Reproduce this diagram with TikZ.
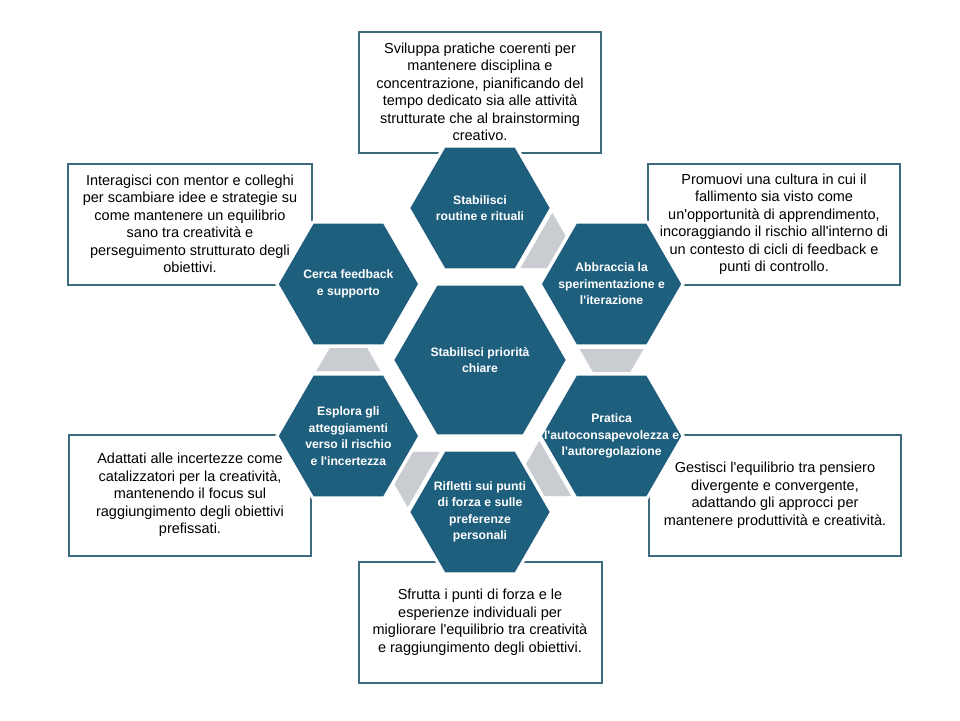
\documentclass[tikz,border=0pt]{standalone}
\usepackage{fontspec}
\setmainfont{Liberation Sans}[Ligatures=TeXOff]
\usepackage{tikz}
\usetikzlibrary{calc,shapes.geometric}
\definecolor{hexblue}{RGB}{31,95,126}
\definecolor{boxline}{RGB}{60,106,126}
\definecolor{conngray}{RGB}{201,205,210}
\tikzset{
	hexo/.style={regular polygon, regular polygon sides=6, minimum size=143pt, inner sep=0pt, fill=hexblue, draw=white, line width=3pt},
	hextxt/.style={text=white, align=center, inner sep=0pt, font=\bfseries\fontsize{12.2}{16.5}\selectfont},
	notebox/.style={draw=boxline, line width=2pt, fill=white, align=center, inner sep=0pt, minimum height=121pt, font=\fontsize{14.5}{17.5}\selectfont}
}
\def\grayconn(#1)(#2){%
	\coordinate (m1) at ($(#1.center)!65pt!(#2.center)$);
	\coordinate (m2) at ($(#1.center)!88pt!(#2.center)$);
	\fill[conngray] ($(m1)!32pt!90:(#2.center)$) -- ($(m1)!32pt!-90:(#2.center)$) -- ($(m2)!18.7pt!-90:(#2.center)$) -- ($(m2)!18.7pt!90:(#2.center)$) -- cycle;}

\begin{document}
\begin{tikzpicture}[x=1pt, y=-1pt]
			%%%%% START %%%%%
			\useasboundingbox[fill=white] (0, 0) rectangle (960, 720);
			
			\node[notebox, minimum width=242pt] (ntop) at (480, 92) {Sviluppa pratiche coerenti per\\mantenere disciplina e\\concentrazione, pianificando del\\tempo dedicato sia alle attività\\strutturate che al brainstorming\\creativo.};
			\node[notebox, minimum width=244pt] (nul) at (190, 224) {Interagisci con mentor e colleghi\\per scambiare idee e strategie su\\come mantenere un equilibrio\\sano tra creatività e\\perseguimento strutturato degli\\obiettivi.};
			\node[notebox, minimum width=252pt] (nur) at (774, 224) {Promuovi una cultura in cui il\\fallimento sia visto come\\un'opportunità di apprendimento,\\incoraggiando il rischio all'interno di\\un contesto di cicli di feedback e\\punti di controllo.};
			\node[notebox, minimum width=242pt] (nll) at (190, 495) {Adattati alle incertezze come\\catalizzatori per la creatività,\\mantenendo il focus sul\\raggiungimento degli obiettivi\\prefissati.};
			\node[notebox, minimum width=252pt] (nlr) at (775, 495) {Gestisci l'equilibrio tra pensiero\\divergente e convergente,\\adattando gli approcci per\\mantenere produttività e creatività.};
			\node[notebox, minimum width=243pt] (nbot) at (480, 622) {Sfrutta i punti di forza e le\\esperienze individuali per\\migliorare l'equilibrio tra creatività\\e raggiungimento degli obiettivi.};
			
			\node[hexo, minimum size=175pt] (hxmid) at (480, 360) {};
			\node[hexo] (hxtop) at (480, 208) {};
			\node[hexo] (hxur) at (611.6, 284) {};
			\node[hexo] (hxlr) at (611.6, 436) {};
			\node[hexo] (hxbot) at (480, 512) {};
			\node[hexo] (hxll) at (348.4, 436) {};
			\node[hexo] (hxul) at (348.4, 284) {};
			
			\grayconn(hxtop)(hxur)
			\grayconn(hxur)(hxlr)
			\grayconn(hxlr)(hxbot)
			\grayconn(hxbot)(hxll)
			\grayconn(hxll)(hxul)
			
			\node[hextxt] (tmid) at (hxmid) {Stabilisci priorità\\chiare};
			\node[hextxt] (ttop) at (hxtop) {Stabilisci\\routine e rituali};
			\node[hextxt] (tur) at (hxur) {Abbraccia la\\sperimentazione e\\l'iterazione};
			\node[hextxt] (tlr) at (hxlr) {Pratica\\l'autoconsapevolezza e\\l'autoregolazione};
			\node[hextxt] (tbot) at (hxbot) {Rifletti sui punti\\di forza e sulle\\preferenze\\personali};
			\node[hextxt] (tll) at (hxll) {Esplora gli\\atteggiamenti\\verso il rischio\\e l'incertezza};
			\node[hextxt] (tul) at (hxul) {Cerca feedback\\e supporto};
			%%%%% END %%%%%
\end{tikzpicture}
\end{document}
